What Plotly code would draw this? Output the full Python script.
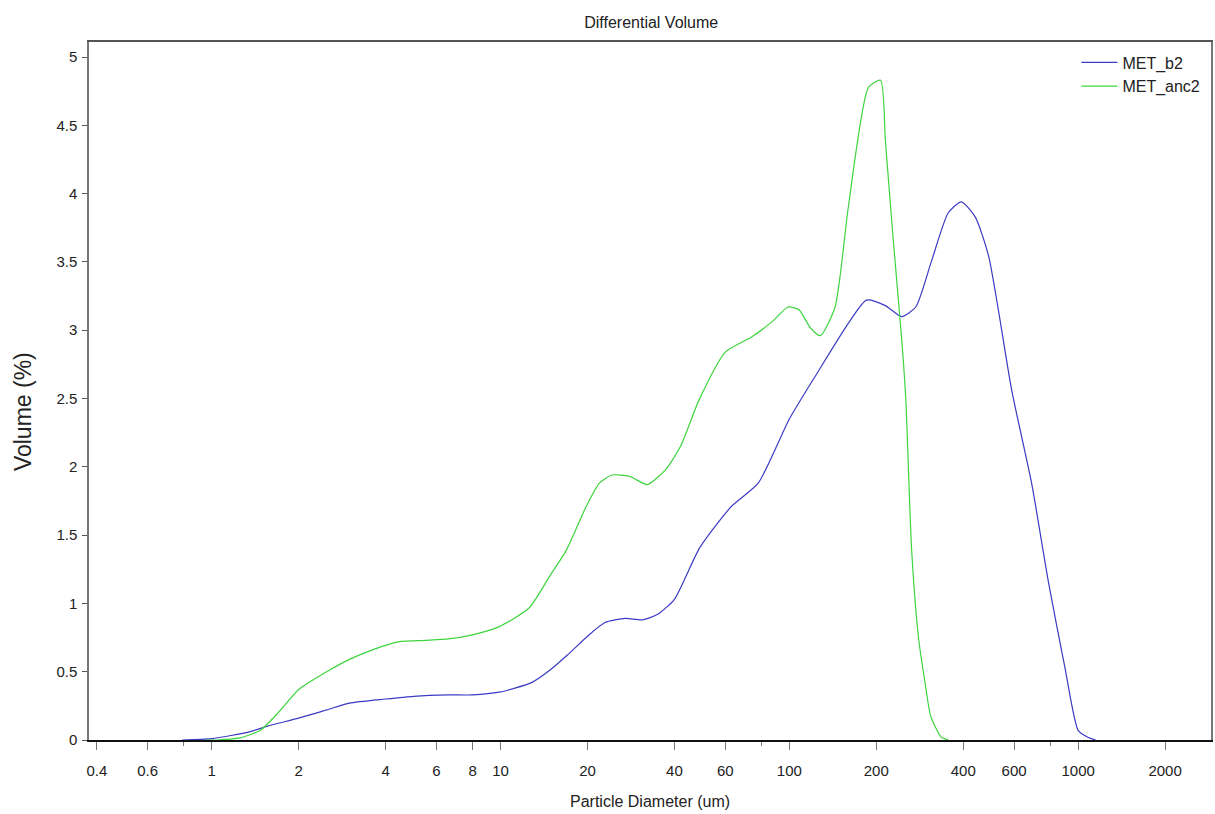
import plotly.graph_objects as go

# Particle diameter (um) and differential volume (%) for each sample
d_b2 = [0.79, 1.0, 1.35, 1.55, 2.0, 2.5, 3.0, 4.0, 5.0, 6.6, 8.0, 9.9, 12.8, 14.8, 17, 20, 23, 27, 31,
        35, 40, 49, 63, 78, 100, 126, 160, 185, 215, 245, 274, 310, 355, 394, 440, 490, 590, 690, 790,
        900, 1000, 1080, 1150]
v_b2 = [0, 0.01, 0.06, 0.1, 0.16, 0.22, 0.27, 0.3, 0.32, 0.33, 0.33, 0.35, 0.42, 0.51, 0.62, 0.76, 0.86,
        0.89, 0.88, 0.92, 1.03, 1.41, 1.71, 1.88, 2.35, 2.7, 3.05, 3.22, 3.18, 3.1, 3.17, 3.5, 3.86, 3.94,
        3.83, 3.54, 2.55, 1.88, 1.15, 0.53, 0.07, 0.02, 0]

d_anc2 = [0.95, 1.04, 1.25, 1.47, 1.7, 2.0, 2.5, 3.0, 3.6, 4.46, 5.5, 6.6, 8.0, 9.9, 12.6, 14.8, 16.9,
          19.8, 22, 24.3, 28, 32.2, 37.3, 42, 48.7, 60, 74, 88, 99, 108, 118, 128, 144, 160, 188, 207,
          215, 229, 245, 253, 265, 280, 295, 309, 336, 355]
v_anc2 = [0, 0.0, 0.015, 0.07, 0.2, 0.37, 0.5, 0.59, 0.66, 0.72, 0.73, 0.74, 0.77, 0.83, 0.97, 1.2, 1.39,
          1.71, 1.88, 1.94, 1.93, 1.87, 1.98, 2.15, 2.49, 2.84, 2.95, 3.07, 3.17, 3.15, 3.02, 2.96, 3.17,
          3.9, 4.78, 4.83, 4.39, 3.66, 2.93, 2.5, 1.4, 0.75, 0.42, 0.17, 0.02, 0]

x_tick_vals = [0.4, 0.6, 1, 2, 4, 6, 8, 10, 20, 40, 60, 100, 200, 400, 600, 1000, 2000]
x_tick_text = ["0.4", "0.6", "1", "2", "4", "6", "8", "10", "20", "40", "60", "100", "200", "400",
               "600", "1000", "2000"]
x_minor_vals = [0.8, 80, 800]
y_tick_vals = [0, 0.5, 1, 1.5, 2, 2.5, 3, 3.5, 4, 4.5, 5]
y_tick_text = ["0", "0.5", "1", "1.5", "2", "2.5", "3", "3.5", "4", "4.5", "5"]

FONT = "Liberation Sans, Arial, sans-serif"

fig = go.Figure()
fig.add_trace(go.Scatter(x=d_b2, y=v_b2, name="MET_b2", mode="lines",
                         line=dict(color="#3b3bc4", width=1.2, shape="spline", smoothing=0.6)))
fig.add_trace(go.Scatter(x=d_anc2, y=v_anc2, name="MET_anc2", mode="lines",
                         line=dict(color="#3fd43f", width=1.2, shape="spline", smoothing=0.6)))

fig.update_layout(
    width=1215, height=814,
    margin=dict(l=89, r=2, t=42, b=74),
    paper_bgcolor="white", plot_bgcolor="white",
    font=dict(family=FONT, size=15, color="#222"),
    title=dict(text="Differential Volume", x=0.536, xanchor="center", y=1 - 22 / 814, yanchor="middle",
               yref="container", font=dict(size=16, color="#222")),
    showlegend=True,
    legend=dict(x=0.995, xanchor="right", y=0.995, yanchor="top", bgcolor="rgba(0,0,0,0)",
                font=dict(size=16, color="#222"), itemwidth=36, tracegroupgap=0),
    xaxis=dict(type="log", range=[-0.425, 3.46], tickmode="array", tickvals=x_tick_vals,
               ticktext=x_tick_text, ticks="outside", ticklen=8, tickcolor="#777", tickwidth=1,
               ticklabelstandoff=8, showgrid=False, zeroline=False, showline=True, linecolor="#111",
               linewidth=1.5, mirror=False, tickfont=dict(size=15),
               minor=dict(tickmode="array", tickvals=x_minor_vals, ticks="outside", ticklen=4,
                          tickcolor="#777", showgrid=False)),
    yaxis=dict(range=[0, 5.11], tickmode="array", tickvals=y_tick_vals, ticktext=y_tick_text,
               ticks="outside", ticklen=5, tickcolor="#555", showgrid=False, zeroline=False,
               showline=True, linecolor="#777", linewidth=1.5, mirror=True, tickfont=dict(size=15),
               ticklabelstandoff=2),
    xaxis2=dict(type="log", range=[-0.425, 3.46], overlaying="x", side="top", showline=True,
                linecolor="#555", linewidth=2, showticklabels=False, ticks="", showgrid=False,
                zeroline=False),
)

fig.add_annotation(text="Particle Diameter (um)", xref="paper", yref="paper", x=0.5, y=(740 - 801) / 698,
                   xanchor="center", yanchor="middle", showarrow=False, font=dict(size=16, color="#222"))
fig.add_annotation(text="Volume (%)", xref="paper", yref="paper", x=(23 - 89) / 1124, y=(740 - 412) / 698,
                   xanchor="center", yanchor="middle", textangle=-90, showarrow=False,
                   font=dict(size=23, color="#222"))

# invisible helper trace so the top frame axis renders
fig.add_trace(go.Scatter(x=[1], y=[0], xaxis="x2", mode="markers", marker=dict(opacity=0),
                         showlegend=False, hoverinfo="skip"))

fig.write_html("out.html")
